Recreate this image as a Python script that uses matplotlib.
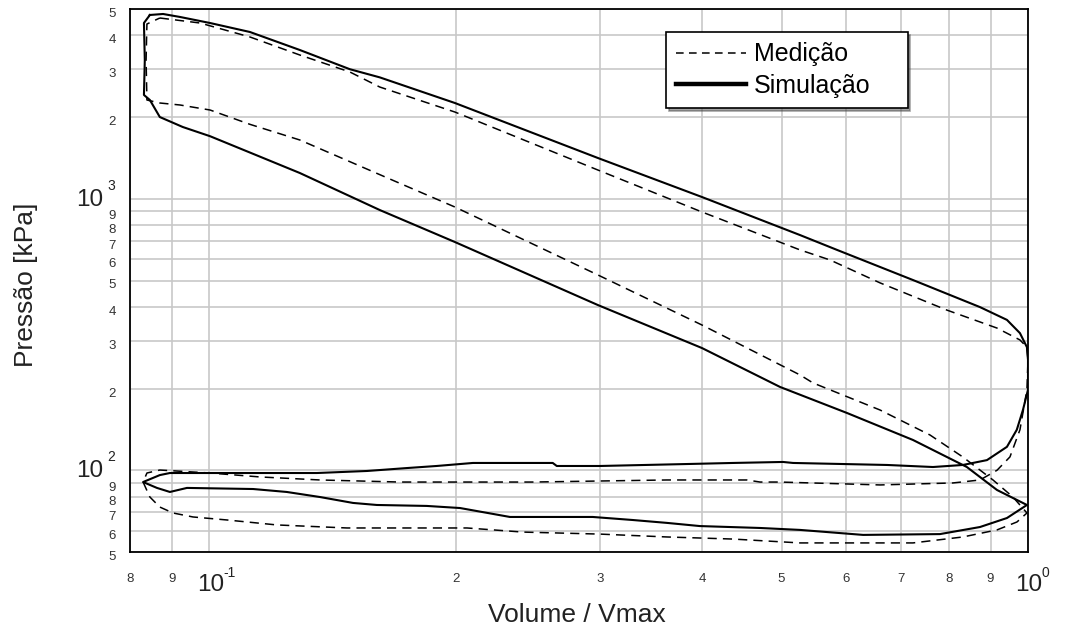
import numpy as np
import matplotlib.pyplot as plt
from matplotlib.lines import Line2D
from matplotlib.transforms import ScaledTranslation

plt.rcParams['font.family'] = ['Liberation Sans', 'DejaVu Sans']

# Simulação: closed cycle (expansion, blowdown, exhaust, intake, compression)
sim_v = [0.0846, 0.0878, 0.0921, 0.1002, 0.1121, 0.1290, 0.1485, 0.1615, 0.1995, 0.2983,
         0.3997, 0.5267, 0.5845, 0.7236, 0.8737, 0.9425, 0.9776, 0.9970,
         1.0, 1.0, 0.986, 0.969, 0.9425, 0.891, 0.8326,
         0.7654, 0.6727, 0.5164, 0.5021, 0.4362, 0.3864, 0.300, 0.2657, 0.2627, 0.2099,
         0.1895, 0.1743, 0.1558, 0.1353, 0.1153, 0.0895, 0.0870, 0.0830,
         0.0863, 0.0895, 0.0939, 0.1131, 0.1243, 0.1365, 0.1498, 0.1602, 0.1843, 0.2024,
         0.2329, 0.2940, 0.3287, 0.3622, 0.3974, 0.4706, 0.5267, 0.6289, 0.7806, 0.8737,
         0.9425, 0.9970,
         0.9165, 0.842, 0.7236, 0.6012, 0.4979, 0.3997, 0.2983, 0.1995, 0.1615, 0.1290,
         0.1121, 0.1002, 0.0928, 0.0870, 0.0846, 0.0832, 0.0834, 0.0832, 0.0846]
sim_p = [4753, 4793, 4673, 4440, 4114, 3531, 3000, 2800, 2253, 1413,
         1015, 735, 648, 502, 399, 358, 320, 284,
         255, 198, 167, 141, 122, 109, 104.6,
         102.8, 104.6, 106.4, 107.3, 106.4, 105.5, 103.7, 103.7, 106.4, 106.4,
         103.7, 101.9, 99.4, 97.7, 97.7, 97.7, 96.0, 90.5,
         86.1, 83.2, 86.1, 85.3, 83.2, 79.7, 75.8, 74.5, 73.9, 72.6,
         67.3, 67.3, 65.6, 64.0, 62.3, 61.3, 60.3, 57.8, 58.2, 61.8,
         66.7, 74.5,
         84.6, 102.8, 129.3, 162.5, 202.7, 282, 406, 693, 909, 1244,
         1480, 1700, 1838, 2000, 2311, 2412, 3244, 4440, 4753]

# Medição: closed cycle
med_v = [0.0870, 0.0974, 0.1121, 0.1290, 0.1485, 0.1615, 0.1995, 0.2983, 0.3997, 0.5267,
         0.5731, 0.6596, 0.7961, 0.9165, 0.9776, 0.9970,
         1.0, 0.997, 0.9776, 0.9505, 0.9165, 0.8737, 0.8096,
         0.6596, 0.4979, 0.4706, 0.4537, 0.3622, 0.300, 0.2485, 0.1709, 0.1365, 0.1153,
         0.1002, 0.0870, 0.0839, 0.0830,
         0.0846, 0.0870, 0.0903, 0.0955, 0.1051, 0.1209, 0.1473, 0.2064, 0.2416, 0.300,
         0.3622, 0.4362, 0.5267, 0.7236, 0.8326, 0.9165, 0.9694, 0.9970,
         0.9586, 0.9062, 0.8326, 0.759, 0.6596, 0.5463, 0.5267, 0.3997, 0.2983, 0.1995,
         0.1694, 0.1290, 0.1121, 0.1002, 0.0921, 0.0870, 0.0839, 0.0837, 0.0839, 0.0870]
med_p = [4633, 4440, 3944, 3384, 2930, 2580, 2087, 1276, 894, 648,
         595, 490, 389, 334, 302, 284,
         255, 198, 141, 112, 100, 92.1, 89.8,
         88.3, 90.5, 90.5, 92.1, 92.1, 91.3, 90.5, 90.5, 92.1, 94.5,
         97.7, 100.2, 97.7, 90.5,
         79.7, 73.2, 69.6, 67.3, 65.6, 62.9, 61.3, 61.3, 59.2, 58.2,
         56.8, 55.8, 54.0, 54.0, 56.8, 60.3, 64.5, 69.6,
         79.7, 92.1, 111.9, 134.9, 166.7, 209.7, 224.4, 342.8, 524, 932.5,
         1153, 1646, 1880, 2123, 2215, 2253, 2311, 3244, 4402, 4633]

x_major = [0.1, 1.0]
x_minor = [0.08, 0.09, 0.2, 0.3, 0.4, 0.5, 0.6, 0.7, 0.8, 0.9]
x_minor_labels = ['8', '9', '2', '3', '4', '5', '6', '7', '8', '9']
x_major_exp = ['-1', '0']
y_major = [100, 1000]
y_minor = [50, 60, 70, 80, 90, 200, 300, 400, 500, 600, 700, 800, 900, 2000, 3000, 4000, 5000]
y_minor_labels = ['5', '6', '7', '8', '9', '2', '3', '4', '5', '6', '7', '8', '9', '2', '3', '4', '5']
y_major_exp = ['2', '3']

fig = plt.figure(figsize=(10.66, 6.41), dpi=100)
ax = fig.add_axes([130 / 1066, 1 - 552 / 641, 898 / 1066, 543 / 641])

ax.plot(med_v, med_p, color='black', lw=1.1, dashes=(6, 4))
ax.plot(sim_v, sim_p, color='black', lw=1.5)

ax.set_xscale('log')
ax.set_yscale('log')
ax.set_xlim(0.08, 1.0)
ax.set_ylim(50, 5000)
ax.set_xticks(x_major + x_minor)
ax.set_yticks(y_major + y_minor)
ax.xaxis.set_minor_locator(plt.NullLocator())
ax.yaxis.set_minor_locator(plt.NullLocator())
ax.tick_params(length=0, labelbottom=False, labelleft=False)
ax.grid(True, color='#c8c8c8', lw=1.2)
ax.set_axisbelow(True)
for s in ax.spines.values():
    s.set_linewidth(1.3)


def off(tr, dx, dy):
    # shift in pixels (dpi 100)
    return tr + ScaledTranslation(dx / 100, -dy / 100, fig.dpi_scale_trans)


xt = ax.get_xaxis_transform()
yt = ax.get_yaxis_transform()
for v, lab in zip(x_minor, x_minor_labels):
    ax.text(v, 0, lab, transform=off(xt, 0, 27), ha='center', va='center', fontsize=9.5, color='#333333')
for v, e in zip(x_major, x_major_exp):
    ax.text(v, 0, '10', transform=off(xt, 1, 33), ha='center', va='center', fontsize=17.5, color='#222222')
    ax.text(v, 0, e, transform=off(xt, 14, 21), ha='left', va='center', fontsize=10, color='#222222')
for p, lab in zip(y_minor, y_minor_labels):
    ax.text(0, p, lab, transform=off(yt, -14, 5), ha='right', va='center', fontsize=9.5, color='#333333')
for p, e in zip(y_major, y_major_exp):
    ax.text(0, p, '10', transform=off(yt, -27, 1), ha='right', va='center', fontsize=17.5, color='#222222')
    ax.text(0, p, e, transform=off(yt, -23, -13), ha='left', va='center', fontsize=10, color='#222222')

fig.text(577 / 1066, 1 - 615 / 641, 'Volume / Vmax', ha='center', va='center', fontsize=19, color='#222222')
fig.text(26 / 1066, 1 - 285 / 641, 'Pressão [kPa]', rotation=90, ha='center', va='center', fontsize=19, color='#222222')

handles = [Line2D([], [], color='black', lw=1.1, dashes=(5, 3.5)),
           Line2D([], [], color='black', lw=3.2)]
leg = ax.legend(handles, ['Medição', 'Simulação'], loc='upper left',
                bbox_to_anchor=(0.597, 0.957, 0.269, 0.0), mode='expand',
                fontsize=18, frameon=True, fancybox=False, shadow=True, framealpha=1,
                edgecolor='black', handlelength=2.8, handletextpad=0.3, borderpad=0.4,
                labelspacing=0.3, borderaxespad=0)
leg.get_frame().set_linewidth(1.2)

fig.savefig('out.png', dpi=100)
